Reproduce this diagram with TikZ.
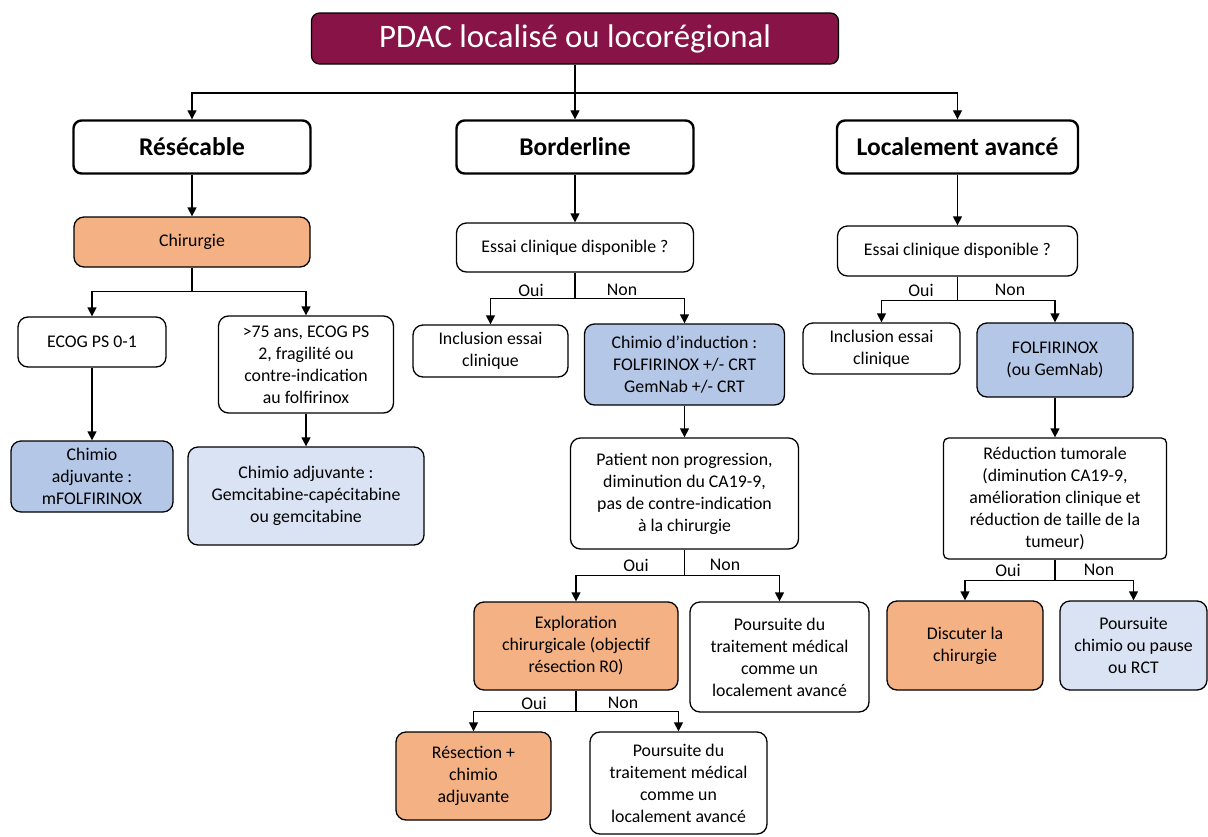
\documentclass[tikz,border=0pt]{standalone}
\usepackage{fontspec}
\setmainfont{Carlito}
\usetikzlibrary{arrows.meta}
\definecolor{maroon}{HTML}{881346}
\definecolor{orangef}{HTML}{F4B183}
\definecolor{bluef}{HTML}{B4C7E7}
\definecolor{lbluef}{HTML}{DAE3F3}
\tikzset{
  box/.style={draw=black, line width=1.3pt, rounded corners=10pt, align=center, inner sep=2pt, fill=white,
    font=\fontsize{17.8}{22}\selectfont},
  headbox/.style={draw=black, line width=2.4pt, rounded corners=8pt, align=center, fill=white,
    font=\fontsize{25.5}{28}\selectfont\bfseries},
  titlebox/.style={draw=black, line width=1.2pt, rounded corners=8pt, fill=maroon, text=white,
    font=\fontsize{32.8}{36}\selectfont},
  lbl/.style={font=\fontsize{17.8}{20}\selectfont, inner sep=0pt},
  conn/.style={line width=1.3pt, draw=black},
  arr/.style={conn, -{Triangle[length=9pt,width=9pt]}},
}
\newcommand{\bx}[6]{\node[#1, minimum width=#4pt, minimum height=#5pt] (#2) at (#3) {#6};}
\begin{document}
\begin{tikzpicture}[x=1pt,y=-1pt]
\useasboundingbox (0,0) rectangle (1208,836);
% title and headers
\bx{titlebox}{title}{575,38.5}{527}{51}{PDAC localisé ou locorégional}
\bx{headbox}{res}{192,147}{237}{53}{Résécable}
\bx{headbox}{bord}{575,147}{237}{53}{Borderline}
\bx{headbox}{loc}{957.5,147}{241}{53}{Localement avancé}
% left column
\bx{box,fill=orangef}{chir}{192,242}{236}{50}{Chirurgie}
\bx{box}{ecog}{92,342}{148}{50}{ECOG PS 0-1}
\bx{box}{old}{306,364.5}{175}{97}{>75 ans, ECOG PS\\2, fragilité ou\\contre-indication\\au folfirinox}
\bx{box,fill=bluef}{cadja}{92,476.5}{162}{71}{Chimio\\adjuvante :\\mFOLFIRINOX}
\bx{box,fill=lbluef}{cadjb}{306,496}{236}{98}{Chimio adjuvante :\\Gemcitabine-capécitabine\\ou gemcitabine}
% middle column
\bx{box}{essa}{575,247.5}{237}{49}{Essai clinique disponible ?}
\bx{box}{incla}{490.5,351}{155}{52}{Inclusion essai\\clinique}
\bx{box,fill=bluef}{induc}{684.5,364.5}{200}{81}{Chimio d’induction :\\FOLFIRINOX +/- CRT\\GemNab +/- CRT}
\bx{box}{patient}{684.5,493.5}{228}{111}{Patient non progression,\\diminution du CA19-9,\\pas de contre-indication\\à la chirurgie}
\bx{box,fill=orangef}{explo}{576,646}{204}{88}{Exploration\\chirurgicale (objectif\\résection R0)}
\bx{box}{poursa}{779.5,657}{179}{110}{Poursuite du\\traitement médical\\comme un\\localement avancé}
\bx{box,fill=orangef}{resec}{473.5,776}{155}{88}{Résection +\\chimio\\adjuvante}
\bx{box}{poursb}{678.5,783}{177}{102}{Poursuite du\\traitement médical\\comme un\\localement avancé}
% right column
\bx{box}{essb}{957.5,251}{240}{50}{Essai clinique disponible ?}
\bx{box}{inclb}{881.5,348.5}{157}{51}{Inclusion essai\\clinique}
\bx{box,fill=bluef}{folf}{1055,360}{156}{74}{FOLFIRINOX\\(ou GemNab)}
\bx{box,rounded corners=5pt}{reduc}{1055,498.5}{223}{121}{Réduction tumorale\\(diminution CA19-9,\\amélioration clinique et\\réduction de taille de la\\tumeur)}
\bx{box,fill=orangef}{disc}{965,645.5}{156}{89}{Discuter la\\chirurgie}
\bx{box,fill=lbluef}{poursc}{1133.5,645.5}{147}{89}{Poursuite\\chimio ou pause\\ou RCT}
% labels
\node[lbl] (o1) at (531,290) {Oui};
\node[lbl] (n1) at (622,290) {Non};
\node[lbl] (o2) at (921,290) {Oui};
\node[lbl] (n2) at (1010,290) {Non};
\node[lbl] (o3) at (636,565) {Oui};
\node[lbl] (n3) at (725,565) {Non};
\node[lbl] (o4) at (1008,570) {Oui};
\node[lbl] (n4) at (1099,570) {Non};
\node[lbl] (o5) at (534,703) {Oui};
\node[lbl] (n5) at (623,703) {Non};
% connectors
\coordinate (t1) at (title.south |- 0,93);
\draw[conn] (title.south) -- (t1);
\draw[arr] (t1) -| (res.north);
\draw[arr] (t1) -- (bord.north);
\draw[arr] (t1) -| (loc.north);
\draw[arr] (res.south) -- (res.south |- chir.north);
\draw[conn] (chir.south) -- ++(0,24) coordinate (s1);
\draw[arr] (s1) -| (ecog.north);
\draw[arr] (s1) -| (old.north);
\draw[arr] (ecog.south) -- (ecog.south |- cadja.north);
\draw[arr] (old.south) -- (old.south |- cadjb.north);
\draw[arr] (bord.south) -- (bord.south |- essa.north);
\draw[conn] (essa.south) -- ++(0,26) coordinate (s2);
\draw[arr] (s2) -| (incla.north);
\draw[arr] (s2) -| (induc.north);
\draw[arr] (induc.south) -- (induc.south |- patient.north);
\draw[conn] (patient.south) -- ++(0,26) coordinate (s3);
\draw[arr] (s3) -| (explo.north);
\draw[arr] (s3) -| (poursa.north);
\draw[conn] (explo.south) -- ++(0,21) coordinate (s4);
\draw[arr] (s4) -| (resec.north);
\draw[arr] (s4) -| (poursb.north);
\draw[arr] (loc.south) -- (loc.south |- essb.north);
\draw[conn] (essb.south) -- ++(0,24) coordinate (s5);
\draw[arr] (s5) -| (inclb.north);
\draw[arr] (s5) -| (folf.north);
\draw[arr] (folf.south) -- (folf.south |- reduc.north);
\draw[conn] (reduc.south) -- ++(0,21) coordinate (s6);
\draw[arr] (s6) -| (disc.north);
\draw[arr] (s6) -| (poursc.north);
\end{tikzpicture}
\end{document}
